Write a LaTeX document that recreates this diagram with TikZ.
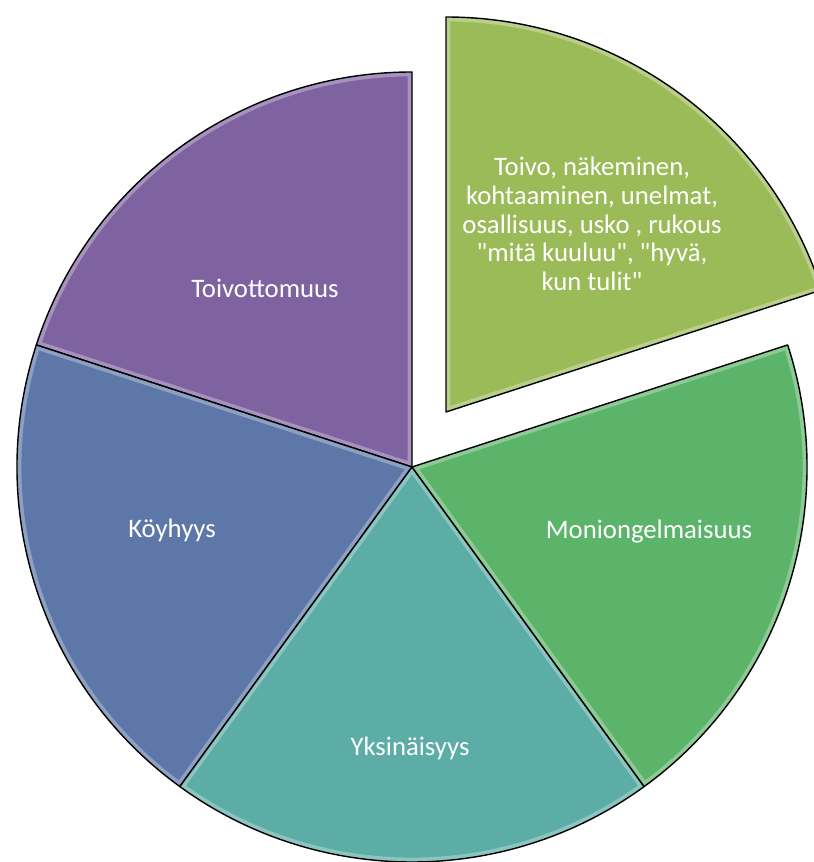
\documentclass[tikz,border=0pt]{standalone}
\usepackage{fontspec}
\setmainfont{Carlito}
\usepackage{xcolor}
\usetikzlibrary{arrows, arrows.meta}
\usetikzlibrary{positioning}
\usetikzlibrary{calc}

\definecolor{hopeless}{HTML}{7F63A1}
\definecolor{poverty}{HTML}{5E77A9}
\definecolor{lonely}{HTML}{5BADA5}
\definecolor{multiprob}{HTML}{5CB46A}
\definecolor{hope}{HTML}{9BBB59}

% slice: vertex, start angle, end angle, colour
\newcommand{\pieslice}[4]{%
	\fill[#4] (#1) -- ++(#2:395) arc[start angle=#2, end angle=#3, radius=395] -- cycle;
	\begin{scope}
		\clip (#1) -- ++(#2:395) arc[start angle=#2, end angle=#3, radius=395] -- cycle;
		\draw[white, opacity=0.3, line width=0.22cm] (#1) -- ++(#2:395) arc[start angle=#2, end angle=#3, radius=395] -- cycle;
	\end{scope}
	\draw[black, line width=1pt, line join=round] (#1) -- ++(#2:395) arc[start angle=#2, end angle=#3, radius=395] -- cycle;
}
\newcommand{\dq}{\textquotedbl}

\begin{document}
\begin{tikzpicture}[x=0.025cm,y=0.025cm,>=Stealth,
	slicetext/.style={text=white, font=\fontsize{19}{20.5}\selectfont, inner sep=0pt, align=center}]
				\useasboundingbox (0,0) rectangle (814,862);
				
				% centre of the pie and of the pulled out slice
				\coordinate (O) at (412,395);
				\coordinate (E) at (446,450);
				
				% draw slices
				\pieslice{O}{90}{162}{hopeless}
				\pieslice{O}{162}{234}{poverty}
				\pieslice{O}{234}{306}{lonely}
				\pieslice{O}{306}{378}{multiprob}
				\pieslice{E}{18}{90}{hope}
				
				% draw labels
				\node[slicetext] (toivottomuus) at (265,574) {Toivottomuus};
				\node[slicetext] (koyhyys) at (172,332) {Köyhyys};
				\node[slicetext] (yksinaisyys) at (410,114) {Yksinäisyys};
				\node[slicetext] (moniongelmaisuus) at (649,330) {Moniongelmaisuus};
				\node[slicetext] (toivo) at (592,638) {Toivo, näkeminen,\\kohtaaminen, unelmat,\\osallisuus, usko , rukous\\\dq mitä kuuluu\dq, \dq hyvä,\\kun tulit\dq};
			\end{tikzpicture}
\end{document}
